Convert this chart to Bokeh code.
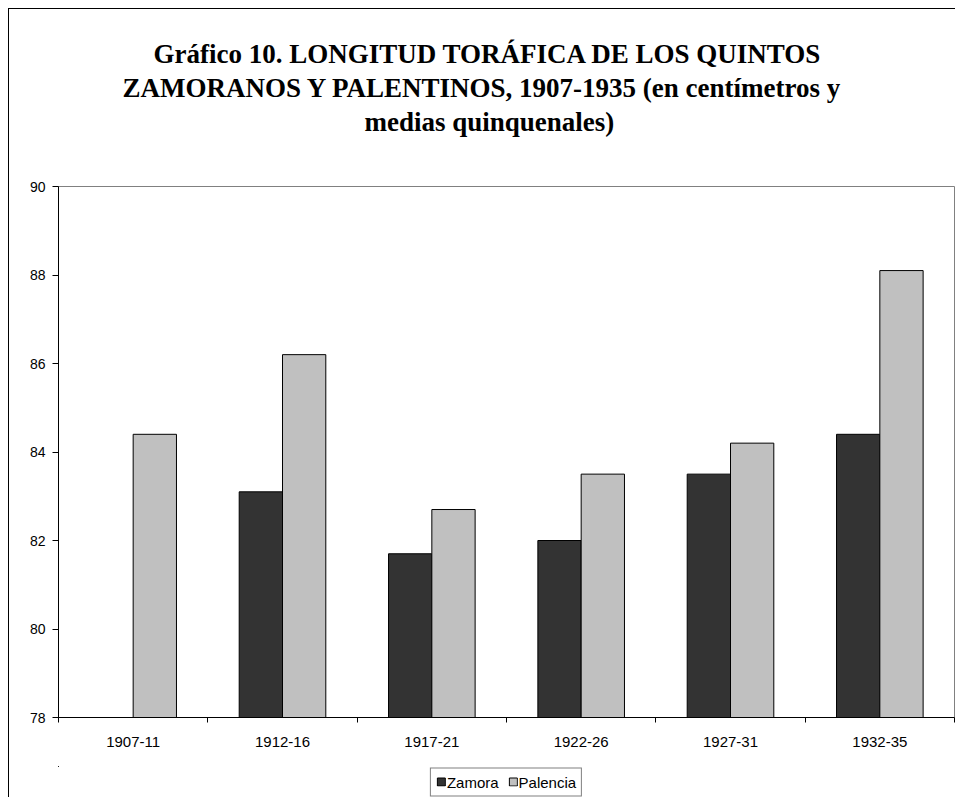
import numpy as np
from bokeh.plotting import figure
from bokeh.layouts import column
from bokeh.models import Range1d, FixedTicker, Legend, LegendItem, Title, ColumnDataSource
from bokeh.embed import file_html
from bokeh.resources import INLINE

# ---- data ----
categories = ["1907-11", "1912-16", "1917-21", "1922-26", "1927-31", "1932-35"]
zamora = [None, 83.1, 81.7, 82.0, 83.5, 84.4]
palencia = [84.4, 86.2, 82.7, 83.5, 84.2, 88.1]
series_names = ["Zamora", "Palencia"]
y_ticks = [78, 80, 82, 84, 86, 88, 90]
title_lines = [
    "Gráfico 10. LONGITUD TORÁFICA DE LOS QUINTOS",
    "ZAMORANOS Y PALENTINOS, 1907-1935 (en centímetros y",
    "medias quinquenales)",
]

# ---- layout / style constants ----
W, H, H_LEG = 946, 757, 31
BAR_W = 0.29
ZAMORA_COLOR = "#333333"
PALENCIA_COLOR = "#C0C0C0"
TITLE_OFFSETS = [95, 64, 306]   # px from frame left, per title line

idx = np.arange(len(categories))
centers = idx + 0.5
src = ColumnDataSource(dict(
    cat=categories,
    xz=centers - BAR_W / 2,
    xp=centers + BAR_W / 2,
    zamora=[np.nan if v is None else v for v in zamora],
    palencia=palencia,
))

p = figure(width=W, height=H, output_backend="svg", toolbar_location=None,
           x_range=Range1d(0, len(categories)), y_range=Range1d(y_ticks[0], y_ticks[-1]),
           min_border_left=49, min_border_right=1, min_border_bottom=49, min_border_top=177)
p.background_fill_color = "white"
p.border_fill_color = "white"
p.outline_line_color = "#808080"
p.outline_line_width = 1
p.xgrid.visible = False
p.ygrid.visible = False

rz = p.vbar(x="xz", top="zamora", bottom=y_ticks[0], width=BAR_W, source=src,
            fill_color=ZAMORA_COLOR, line_color="black", line_width=1)
rp = p.vbar(x="xp", top="palencia", bottom=y_ticks[0], width=BAR_W, source=src,
            fill_color=PALENCIA_COLOR, line_color="black", line_width=1)

# x axis: labels at category centres, ticks at category boundaries
xa = p.xaxis[0]
xa.ticker = FixedTicker(ticks=list(centers), minor_ticks=list(range(len(categories) + 1)))
xa.major_label_overrides = {float(c): lab for c, lab in zip(centers, categories)}
xa.major_tick_out = 0
xa.major_tick_in = 0
xa.minor_tick_out = 5
xa.minor_tick_in = 0
xa.minor_tick_line_color = "black"
xa.axis_line_color = "black"
xa.major_label_standoff = 14
xa.major_label_text_font = "Liberation Sans"
xa.major_label_text_font_size = "15px"
xa.major_label_text_color = "black"

ya = p.yaxis[0]
ya.ticker = FixedTicker(ticks=y_ticks)
ya.major_tick_out = 6
ya.major_tick_in = 0
ya.minor_tick_out = 0
ya.minor_tick_in = 0
ya.major_tick_line_color = "black"
ya.axis_line_color = "black"
ya.major_label_standoff = 7
ya.major_label_text_font = "Liberation Sans"
ya.major_label_text_font_size = "14px"
ya.major_label_text_color = "black"

# titles: first added is nearest the frame
p.add_layout(Title(text=" ", text_font="Liberation Sans", text_font_size="20px", standoff=25), "above")
for line, off in reversed(list(zip(title_lines, TITLE_OFFSETS))):
    p.add_layout(Title(text=line, align="left", offset=off, standoff=2,
                       text_font="Liberation Serif", text_font_style="bold",
                       text_font_size="27px", text_color="black"), "above")

# legend strip (separate small figure below the chart); its bars lie entirely
# outside its own ranges, so only the legend swatches are visible
q = figure(width=W, height=H_LEG, output_backend="svg", toolbar_location=None,
           x_range=Range1d(50, 51), y_range=Range1d(0, 1),
           x_axis_location=None, y_axis_location=None,
           min_border_left=0, min_border_right=0, min_border_top=0, min_border_bottom=0)
q.outline_line_color = None
q.background_fill_color = "white"
q.border_fill_color = "white"
q.xgrid.visible = False
q.ygrid.visible = False
lz = q.vbar(x="xz", top="zamora", bottom=y_ticks[0], width=BAR_W, source=src,
            fill_color=ZAMORA_COLOR, line_color="black", line_width=1)
lp = q.vbar(x="xp", top="palencia", bottom=y_ticks[0], width=BAR_W, source=src,
            fill_color=PALENCIA_COLOR, line_color="black", line_width=1)

legend = Legend(items=[LegendItem(label=series_names[0], renderers=[lz]),
                       LegendItem(label=series_names[1], renderers=[lp])],
                location="center", orientation="horizontal")
legend.border_line_color = "black"
legend.border_line_width = 1
legend.background_fill_color = "white"
legend.background_fill_alpha = 1
legend.label_text_font = "Liberation Sans"
legend.label_text_font_size = "15px"
legend.label_text_color = "black"
legend.glyph_width = 10
legend.glyph_height = 10
legend.label_standoff = 1
legend.label_height = 14
legend.spacing = 9
legend.padding = 5
legend.margin = 0
q.add_layout(legend, "center")

layout = column(p, q, spacing=0)
layout.styles = {"margin-left": "8px", "margin-top": "8px",
                 "border-left": "1px solid #000000", "border-top": "1px solid #000000"}

open("out.html", "w").write(file_html(layout, INLINE))
